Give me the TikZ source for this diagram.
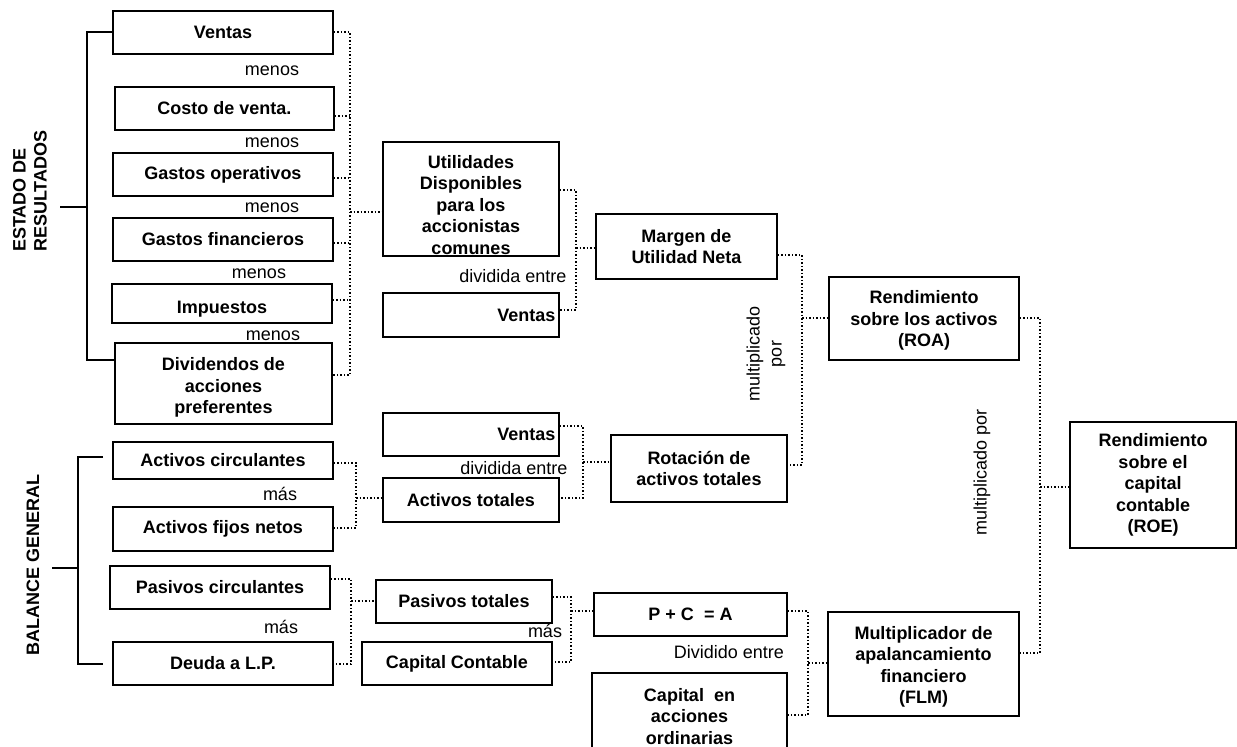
\documentclass[tikz,border=0pt]{standalone}
\usepackage{fontspec}
\setmainfont{Liberation Sans}
\newcommand\lowered[3]{\raisebox{-#1}[\height][\depth]{\parbox{#2}{\centering #3}}}
\begin{document}
\begin{tikzpicture}[x=1pt,y=-1pt,
  box/.style={draw, line width=1.6pt, inner sep=0pt, align=center, font=\fontsize{18}{21.5}\selectfont\bfseries},
  lbl/.style={inner sep=0pt, anchor=base, font=\fontsize{18}{21.5}\selectfont},
  side/.style={inner sep=0pt, rotate=90, font=\fontsize{18}{21}\selectfont\bfseries},
  dot/.style={line width=1.5pt, dash pattern=on 1.5pt off 2pt},
  brk/.style={line width=1.6pt}]
\useasboundingbox (0,0) rectangle (1237,747);
\clip (0,0) rectangle (1237,747);
% left column: Estado de resultados
\node[box, minimum width=220pt, minimum height=43pt] (ventasA) at (223,32.5) {Ventas};
\node[box, minimum width=219pt, minimum height=43pt] (costo) at (224.5,108.5) {Costo de venta.};
\node[box, minimum width=220pt, minimum height=43pt] (gop) at (223,174.5) {Gastos operativos};
\node[box, minimum width=220pt, minimum height=43pt] (gfin) at (223,239.5) {Gastos financieros};
\node[box, minimum width=220pt, minimum height=39pt] (imp) at (222,303.5) {\raisebox{-6pt}[\height][\depth]{Impuestos}};
\node[box, minimum width=217pt, minimum height=81pt] (div) at (223.5,383.5) {\lowered{4pt}{210pt}{Dividendos de\\acciones\\preferentes}};
% left column: Balance general
\node[box, minimum width=220pt, minimum height=37pt] (acirc) at (223,460.5) {Activos circulantes};
\node[box, minimum width=220pt, minimum height=44pt] (afij) at (223,529) {Activos fijos netos};
\node[box, minimum width=220pt, minimum height=43pt] (pcirc) at (220,587.5) {Pasivos circulantes};
\node[box, minimum width=220pt, minimum height=43pt] (deuda) at (223,663.5) {Deuda a L.P.};
% middle column
\node[box, minimum width=176pt, minimum height=114pt] (util) at (471,199) {\lowered{6pt}{170pt}{Utilidades\\Disponibles\\para los\\accionistas\\comunes}};
\node[box, minimum width=176pt, minimum height=44pt, text width=169pt, align=right] (ventasB) at (471,315) {Ventas};
\node[box, minimum width=176pt, minimum height=43pt, text width=169pt, align=right] (ventasC) at (471,434.5) {Ventas};
\node[box, minimum width=176pt, minimum height=44pt] (atot) at (471,500) {Activos totales};
\node[box, minimum width=176pt, minimum height=43pt] (ptot) at (464,601.5) {Pasivos totales};
\node[box, minimum width=190pt, minimum height=43pt] (ccont) at (457,663.5) {Capital Contable};
% third column
\node[box, minimum width=181pt, minimum height=65pt] (margen) at (686.5,246.5) {Margen de\\Utilidad Neta};
\node[box, minimum width=176pt, minimum height=67pt] (rot) at (699,468.5) {Rotación de\\activos totales};
\node[box, minimum width=193pt, minimum height=43pt] (pca) at (690.5,614.5) {P + C \ = A};
\node[box, minimum width=195pt, minimum height=87pt] (cacc) at (689.5,716.5) {Capital \ en\\acciones\\ordinarias};
% fourth column
\node[box, minimum width=190pt, minimum height=83pt] (roa) at (924,318.5) {\lowered{2pt}{185pt}{Rendimiento\\sobre los activos\\(ROA)}};
\node[box, minimum width=191pt, minimum height=104pt] (flm) at (923.5,664) {\lowered{3pt}{185pt}{Multiplicador de\\apalancamiento\\financiero\\(FLM)}};
% right
\node[box, minimum width=166pt, minimum height=126pt] (roe) at (1153,485) {Rendimiento\\sobre el\\capital\\contable\\(ROE)};
% side titles
\node[side, anchor=west, align=left] (er) at (30,252) {ESTADO DE\\RESULTADOS};
\node[side] (bg) at (33,565) {BALANCE GENERAL};
% labels
\node[lbl] (m1) at (272,75) {menos};
\node[lbl] (m2) at (272,147) {menos};
\node[lbl] (m3) at (272,212) {menos};
\node[lbl] (m4) at (259,278) {menos};
\node[lbl] (m5) at (273,340) {menos};
\node[lbl] (ma1) at (280,500) {más};
\node[lbl] (ma2) at (281,633) {más};
\node[lbl] (d1) at (513,282) {dividida entre};
\node[lbl] (d2) at (514,474) {dividida entre};
\node[lbl] (ma3) at (545,637) {más};
\node[lbl] (d3) at (729,658) {Dividido entre};
\node[inner sep=0pt, rotate=90, align=center, font=\fontsize{18}{22}\selectfont] (mp1) at (766,354) {multiplicado\\por};
\node[inner sep=0pt, rotate=90, font=\fontsize{18}{21}\selectfont] (mp2) at (982,472) {multiplicado por};
% solid brackets
\draw[brk] (ventasA.west |- 0,32) -| (87,360) -- (div.west |- 0,360);
\draw[brk] (60,207) -- (87,207);
\coordinate (bgt) at (103,457);
\coordinate (bgb) at (103,664);
\draw[brk] (bgt) -| (78,664) -- (bgb);
\draw[brk] (52,568) -- (78,568);
% dotted connectors: estado de resultados
\draw[dot] (ventasA.east |- 0,32) -| (350,375) -- (div.east |- 0,375);
\draw[dot] (costo.east |- 0,116) -- (350,116);
\draw[dot] (gop.east |- 0,178) -- (350,178);
\draw[dot] (gfin.east |- 0,243) -- (350,243);
\draw[dot] (imp.east |- 0,300) -- (350,300);
\draw[dot] (350,212) -- (util.west |- 0,212);
% util / ventas -> margen
\draw[dot] (util.east |- 0,190) -| (576,310) -- (ventasB.east |- 0,310);
\draw[dot] (576,248) -- (margen.west |- 0,248);
% margen / rotacion -> roa
\draw[dot] (margen.east |- 0,255) -| (802,465) -- (rot.east |- 0,465);
\draw[dot] (802,318) -- (roa.west |- 0,318);
% roa / flm -> roe
\draw[dot] (roa.east |- 0,318) -| (1040,653) -- (flm.east |- 0,653);
\draw[dot] (1040,487) -- (roe.west |- 0,487);
% activos
\draw[dot] (acirc.east |- 0,463) -| (356,528) -- (afij.east |- 0,528);
\draw[dot] (356,498) -- (atot.west |- 0,498);
\draw[dot] (ventasC.east |- 0,426) -| (583,498) -- (atot.east |- 0,498);
\draw[dot] (583,462) -- (rot.west |- 0,462);
% pasivos
\draw[dot] (pcirc.east |- 0,579) -| (351,664) -- (deuda.east |- 0,664);
\draw[dot] (351,601) -- (ptot.west |- 0,601);
\draw[dot] (ptot.east |- 0,597) -| (571,662) -- (ccont.east |- 0,662);
\draw[dot] (571,611) -- (pca.west |- 0,611);
\draw[dot] (pca.east |- 0,611) -| (808,715) -- (cacc.east |- 0,715);
\draw[dot] (808,663) -- (flm.west |- 0,663);
\end{tikzpicture}
\end{document}
